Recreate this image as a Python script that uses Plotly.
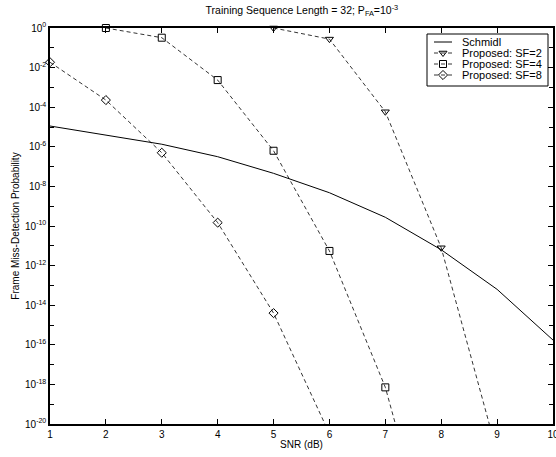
import plotly.graph_objects as go

# SNR grid (dB)
snr = [1, 2, 3, 4, 5, 6, 7, 8, 9, 10]

# Schmidl reference curve (log10 of miss-detection probability)
schmidl_log = [-4.95, -5.4, -5.87, -6.5, -7.34, -8.32, -9.56, -11.2, -13.2, -15.76]

# Proposed scheme, spreading factors 2 / 4 / 8
sf2_snr = [5, 6, 7, 8, 9]
sf2_log = [0.0, -0.56, -4.23, -11.1, -21.45]

sf4_snr = [2, 3, 4, 5, 6, 7, 8]
sf4_log = [0.0, -0.49, -2.63, -6.2, -11.26, -18.15, -28.4]

sf8_snr = [1, 2, 3, 4, 5, 6]
sf8_log = [-1.73, -3.64, -6.3, -9.83, -14.4, -20.49]

y_tick_exps = list(range(0, -21, -2))
y_minor_exps = list(range(-1, -20, -2))
x_ticks = [1, 2, 3, 4, 5, 6, 7, 8, 9, 10]

FONT = "Liberation Sans, Arial, Helvetica, sans-serif"
BLACK = "black"
DASH = "4px,3px"


def pw(vals):
    return [10 ** v for v in vals]


fig = go.Figure()

solid = dict(color=BLACK, width=1)
dashed = dict(color=BLACK, width=0.8, dash=DASH)

fig.add_trace(go.Scatter(
    x=snr, y=pw(schmidl_log), name="Schmidl", mode="lines",
    line=solid, showlegend=False,
))

series = [
    ("Proposed: SF=2", sf2_snr, sf2_log, "triangle-down-open"),
    ("Proposed: SF=4", sf4_snr, sf4_log, "square-open"),
    ("Proposed: SF=8", sf8_snr, sf8_log, "diamond-open"),
]
for name, xs, ys, sym in series:
    fig.add_trace(go.Scatter(
        x=xs, y=pw(ys), name=name, mode="lines+markers",
        line=dashed,
        marker=dict(symbol=sym, size=7, color=BLACK,
                    line=dict(color=BLACK, width=1)),
        cliponaxis=False, showlegend=False,
    ))

# ---- compact boxed legend drawn on an overlay axis measured in pixels ----
# overlay axis spans the plot area: x 0..503 px, y 0..396 px (top = 0)
box = dict(x0=377, x1=498, y0=6, y1=58)
row_y = [14, 25, 36, 47]
sample_x = [384, 393, 402]
text_x = 410

fig.add_shape(type="rect", xref="x2", yref="y2",
              x0=box["x0"], x1=box["x1"], y0=box["y0"], y1=box["y1"],
              line=dict(color=BLACK, width=1), fillcolor="white", layer="below")

legend_items = [("Schmidl", None, solid)] + [(n, s, dashed) for n, _, _, s in series]
for (label, sym, style), ry in zip(legend_items, row_y):
    fig.add_trace(go.Scatter(
        x=sample_x, y=[ry] * len(sample_x), xaxis="x2", yaxis="y2",
        mode="lines" if sym is None else "lines+markers",
        line=style,
        marker=dict(symbol=(sym or "circle-open"), size=7, color=BLACK,
                    opacity=[0, 1, 0], line=dict(color=BLACK, width=1)),
        showlegend=False, hoverinfo="skip",
    ))
    fig.add_annotation(
        x=text_x, y=ry, xref="x2", yref="y2", text=label, showarrow=False,
        xanchor="left", yanchor="middle",
        font=dict(family=FONT, size=11, color=BLACK),
    )

fig.update_layout(
    width=556, height=457,
    margin=dict(l=50, r=3, t=28, b=33),
    paper_bgcolor="white", plot_bgcolor="white",
    font=dict(family=FONT, size=10, color=BLACK),
    title=dict(
        text="Training Sequence Length = 32; P<sub>FA</sub>=10<sup>-3</sup>",
        x=0.543, xanchor="center", y=0.985, yanchor="top",
        font=dict(family=FONT, size=10.5, color=BLACK),
    ),
    showlegend=False,
    xaxis=dict(
        range=[1, 10], tickvals=x_ticks, automargin=False,
        ticks="inside", ticklen=5, tickwidth=1, tickcolor=BLACK,
        showline=True, linecolor=BLACK, linewidth=1.5, mirror="ticks",
        showgrid=False, zeroline=False, ticklabeloverflow="allow",
        title=dict(text="SNR (dB)", standoff=2, font=dict(family=FONT, size=10)),
        tickfont=dict(family=FONT, size=10),
    ),
    yaxis=dict(
        type="log", range=[-20, 0], automargin=False,
        tickvals=[10 ** e for e in y_tick_exps],
        ticktext=[f"10<sup>{e}</sup>" for e in y_tick_exps],
        ticks="inside", ticklen=5, tickwidth=1, tickcolor=BLACK,
        minor=dict(tickvals=[10 ** e for e in y_minor_exps], ticks="inside",
                   ticklen=4, tickcolor=BLACK, showgrid=False),
        showline=True, linecolor=BLACK, linewidth=1.5, mirror="ticks",
        showgrid=False, zeroline=False,
        title=dict(text="Frame Miss-Detection Probability", standoff=4,
                   font=dict(family=FONT, size=10)),
        tickfont=dict(family=FONT, size=10),
    ),
    xaxis2=dict(overlaying="x", range=[0, 503], visible=False, fixedrange=True),
    yaxis2=dict(overlaying="y", range=[396, 0], visible=False, fixedrange=True),
)

fig.write_html("out.html")
